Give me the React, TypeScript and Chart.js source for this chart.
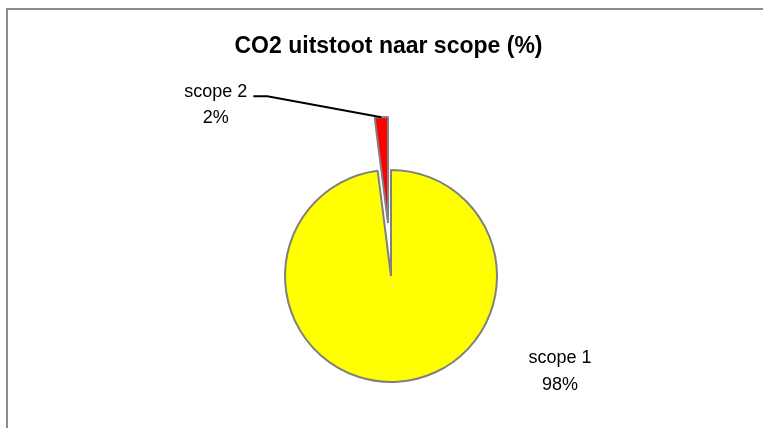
import React, { useEffect, useRef } from "react";
import { Chart, registerables } from "chart.js";

Chart.register(...registerables);

const TITLE = "CO2 uitstoot naar scope (%)";
const categories = ["scope 1", "scope 2"];
const values = [98, 2];
const sliceColors = ["#FFFF00", "#FF0000"];

const W = 763;
const H = 428;
const FONT = '"Liberation Sans", Arial, sans-serif';

const total = values.reduce((a, b) => a + b, 0);
const pctLabels = values.map((v) => Math.round((v / total) * 100) + "%");

const PADDING = { left: 285, right: 266, top: 170, bottom: 46 };
const RADIUS = 106;
const EXPLODE_DX = -3;
const EXPLODE_DY = -53;

function makeConfig(showIndex: number, plugin: any) {
  return {
    type: "pie" as const,
    data: {
      labels: categories,
      datasets: [
        {
          data: values,
          backgroundColor: sliceColors.map((c, i) => (i === showIndex || showIndex < 0 ? c : "rgba(0,0,0,0)")),
          borderColor: sliceColors.map((c, i) => (i === showIndex || showIndex < 0 ? "#808080" : "rgba(0,0,0,0)")),
          borderWidth: sliceColors.map((c, i) => (i === showIndex ? 2 : 0)),
        },
      ],
    },
    options: {
      responsive: false,
      animation: false as const,
      radius: RADIUS,
      rotation: 0,
      layout: { padding: PADDING },
      plugins: {
        legend: { display: false },
        tooltip: { enabled: false },
        title: { display: false },
      },
      events: [] as any[],
    },
    plugins: [plugin],
  };
}

const mainPlugin = {
  id: "mainLabels",
  afterDatasetsDraw(chart: any) {
    const ctx = chart.ctx;
    const arc = chart.getDatasetMeta(0).data[0];
    const { x, y } = arc.getProps(["x", "y"], true);
    ctx.save();
    ctx.fillStyle = "#000";
    ctx.textAlign = "center";
    ctx.textBaseline = "alphabetic";
    ctx.font = `bold 23px ${FONT}`;
    ctx.fillText(TITLE, x - 2.5, y - 223);
    ctx.font = `18px ${FONT}`;
    ctx.fillText(categories[0], x + 169, y + 87);
    ctx.fillText(pctLabels[0], x + 169, y + 114);
    ctx.restore();
  },
};

const explodedPlugin = {
  id: "explodedLabels",
  afterDatasetsDraw(chart: any) {
    const ctx = chart.ctx;
    const arc = chart.getDatasetMeta(0).data[1];
    const { x, y, startAngle, endAngle, outerRadius } = arc.getProps(
      ["x", "y", "startAngle", "endAngle", "outerRadius"],
      true
    );
    const mid = (startAngle + endAngle) / 2;
    const px = x + Math.cos(mid) * outerRadius;
    const py = y + Math.sin(mid) * outerRadius;
    ctx.save();
    ctx.strokeStyle = "#000";
    ctx.lineWidth = 2;
    ctx.beginPath();
    ctx.moveTo(px, py);
    ctx.lineTo(px - 114, py - 21);
    ctx.lineTo(px - 128, py - 21);
    ctx.stroke();
    ctx.fillStyle = "#000";
    ctx.textAlign = "center";
    ctx.textBaseline = "alphabetic";
    ctx.font = `18px ${FONT}`;
    ctx.fillText(categories[1], px - 165.5, py - 20);
    ctx.fillText(pctLabels[1], px - 165.5, py + 6);
    ctx.restore();
  },
};

export default function App() {
  const refA = useRef<HTMLCanvasElement | null>(null);
  const refB = useRef<HTMLCanvasElement | null>(null);

  useEffect(() => {
    if (!refA.current || !refB.current) return;
    const a = new Chart(refA.current, makeConfig(0, mainPlugin) as any);
    const b = new Chart(refB.current, makeConfig(1, explodedPlugin) as any);
    return () => {
      a.destroy();
      b.destroy();
    };
  }, []);

  return (
    <div
      style={{
        position: "fixed",
        left: 0,
        top: 0,
        width: W,
        height: H,
        background: "#fff",
        overflow: "hidden",
      }}
    >
      <div
        style={{
          position: "absolute",
          left: 6,
          top: 8,
          width: 900,
          height: 600,
          border: "2px solid #8c8c8c",
          boxSizing: "border-box",
        }}
      />
      <canvas
        ref={refA}
        width={W}
        height={H}
        style={{ position: "absolute", left: 0, top: 0, width: W, height: H }}
      />
      <canvas
        ref={refB}
        width={W}
        height={H}
        style={{ position: "absolute", left: EXPLODE_DX, top: EXPLODE_DY, width: W, height: H }}
      />
    </div>
  );
}
